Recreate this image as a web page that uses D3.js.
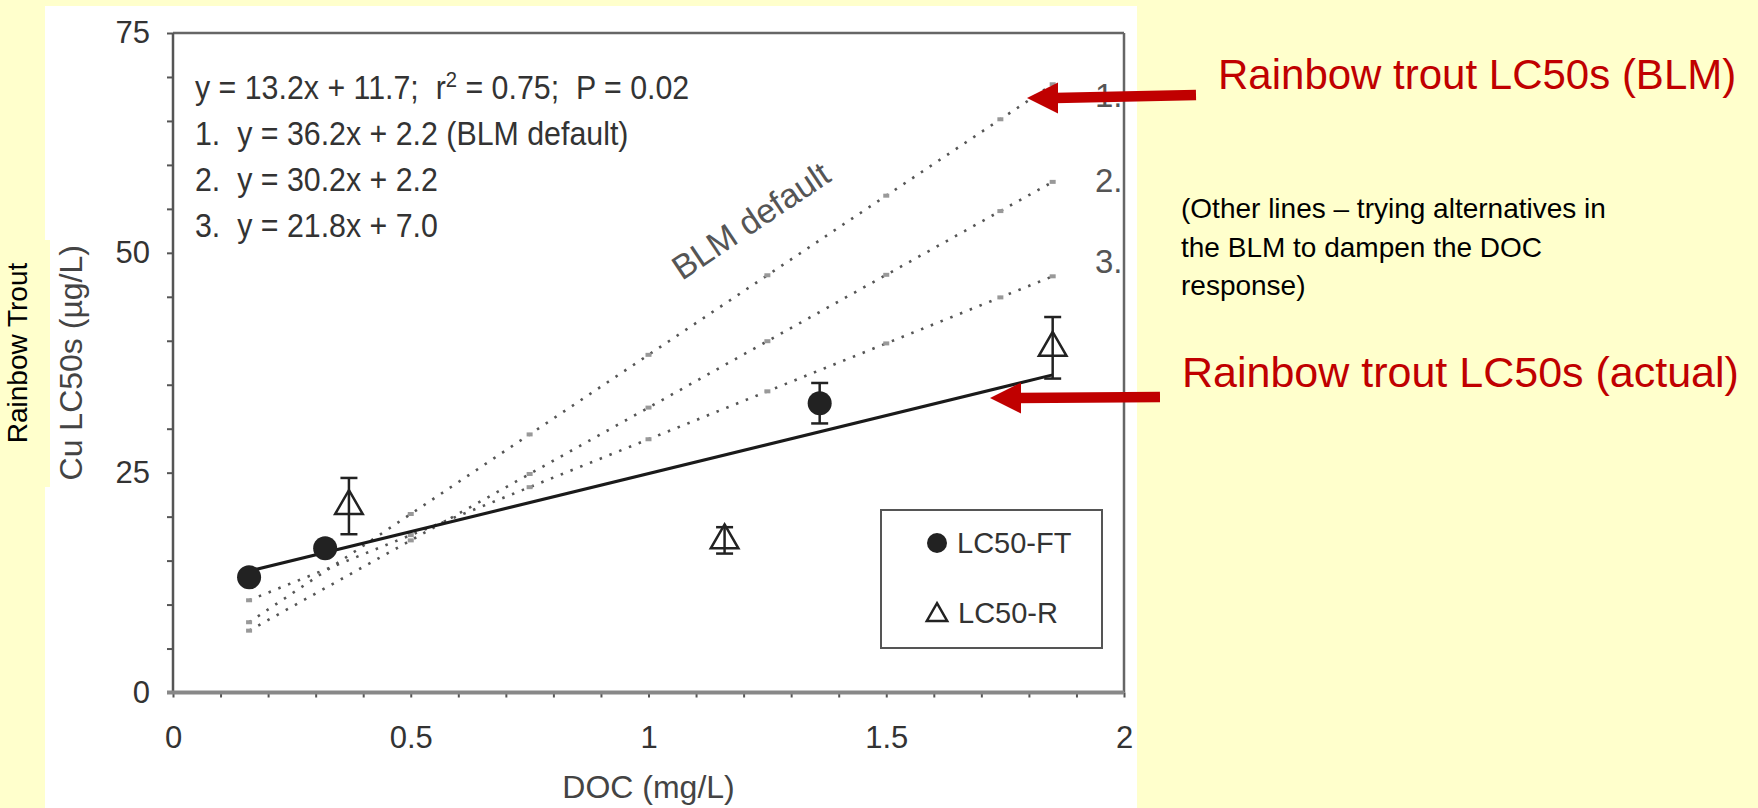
<!DOCTYPE html>
<html>
<head>
<meta charset="utf-8">
<script src="https://cdn.jsdelivr.net/npm/d3@7"></script>
<style>
  body { margin: 0; background: #FFFFCC; }
  svg { display: block; font-family: "Liberation Sans", Arial, sans-serif; }
</style>
</head>
<body>
<svg id="chart" width="1758" height="808"></svg>
<script>
// data
var ftDoc = [0.16, 0.32, 1.36];
var ftLc50 = [13.1, 16.4, 32.9];
var ftErr = [0, 0, 2.3];

var rDoc = [0.37, 1.16, 1.85];
var rLc50 = [21.2, 17.3, 39.2];
var rErr = [3.2, 1.5, 3.5];

// fitted line and BLM model lines (slope, intercept as printed on the chart)
var fitLine = {slope: 13.2, intercept: 11.7};
var modelNames = ["1.", "2.", "3."];
var modelSlopes = [36.2, 30.2, 21.8];
var modelIntercepts = [2.2, 2.2, 7.0];
var lineRange = [0.16, 1.85];
var markDoc = [0.16, 0.5, 0.75, 1.0, 1.25, 1.5, 1.74, 1.85];

var nb = "\u00a0";
var equations = [
  "1." + nb + nb + "y = 36.2x + 2.2 (BLM default)",
  "2." + nb + nb + "y = 30.2x + 2.2",
  "3." + nb + nb + "y = 21.8x + 7.0"
];

var yTicks = [0, 25, 50, 75];
var xTicks = [0, 0.5, 1, 1.5, 2];

var svg = d3.select("#chart");

// white picture area
svg.append("rect").attr("x", 45).attr("y", 6).attr("width", 1092).attr("height", 802).attr("fill", "#fff");
svg.append("rect").attr("x", 0).attr("y", 240).attr("width", 50).attr("height", 247).attr("fill", "#FFFFCC");

var x = d3.scaleLinear().domain([0, 2]).range([173, 1124]);
var y = d3.scaleLinear().domain([0, 75]).range([692.5, 33]);

var ink = "#333";

// y axis, minor ticks every 5
var yAxis = d3.axisLeft(y)
  .tickValues(d3.range(0, 76, 5))
  .tickSize(6)
  .tickPadding(17)
  .tickFormat(function(d){ return yTicks.indexOf(d) >= 0 ? d : ""; });

var gy = svg.append("g").attr("transform", "translate(" + x(0) + ",0)").call(yAxis);
gy.select(".domain").remove();
gy.selectAll("line").attr("stroke", "#555").attr("stroke-width", 2);
gy.selectAll("text").attr("font-size", 31).attr("fill", ink).attr("font-family", "Liberation Sans, Arial, sans-serif");

// x axis, minor ticks every 0.1
var xAxis = d3.axisBottom(x)
  .tickValues(d3.range(21).map(function(i){ return i / 10; }))
  .tickSize(5)
  .tickPadding(28)
  .tickFormat(function(d){
    var hit = xTicks.filter(function(t){ return Math.abs(t - d) < 1e-9; });
    return hit.length ? d3.format("~g")(hit[0]) : "";
  });

var gx = svg.append("g").attr("transform", "translate(0," + y(0) + ")").call(xAxis);
gx.select(".domain").remove();
gx.selectAll("line").attr("stroke", "#555").attr("stroke-width", 2);
gx.selectAll("text").attr("font-size", 31).attr("fill", ink).attr("font-family", "Liberation Sans, Arial, sans-serif");

// frame
svg.append("line").attr("x1", x(0)).attr("x2", x(2)).attr("y1", y(75)).attr("y2", y(75))
  .attr("stroke", "#666").attr("stroke-width", 2.5);
svg.append("line").attr("x1", x(2)).attr("x2", x(2)).attr("y1", y(75)).attr("y2", y(0))
  .attr("stroke", "#666").attr("stroke-width", 2.5);
svg.append("line").attr("x1", x(0)).attr("x2", x(0)).attr("y1", y(75)).attr("y2", y(0))
  .attr("stroke", "#555").attr("stroke-width", 2.5);
svg.append("line").attr("x1", x(0) - 6).attr("x2", x(2)).attr("y1", y(0)).attr("y2", y(0))
  .attr("stroke", "#888").attr("stroke-width", 4);

// axis titles
svg.append("text")
  .attr("transform", "translate(82," + ((y(0) + y(75)) / 2) + ") rotate(-90)")
  .attr("text-anchor", "middle").attr("font-size", 32).attr("fill", "#444")
  .text("Cu LC50s (µg/L)");

svg.append("text")
  .attr("transform", "translate(27,353) rotate(-90)")
  .attr("text-anchor", "middle").attr("font-size", 28).attr("fill", "#000")
  .text("Rainbow Trout");

svg.append("text")
  .attr("x", x(1)).attr("y", 798)
  .attr("text-anchor", "middle").attr("font-size", 32).attr("fill", "#444")
  .text("DOC (mg/L)");

// equations (slightly condensed face as in the source figure)
var eq = svg.append("g").attr("font-size", 33).attr("fill", ink)
  .attr("transform", "translate(195,0) scale(0.92,1)");
var eq0 = eq.append("text").attr("x", 0).attr("y", 99);
eq0.append("tspan").text("y = 13.2x + 11.7;" + nb + nb + "r");
eq0.append("tspan").attr("dy", -12).attr("font-size", 22).text("2");
eq0.append("tspan").attr("dy", 12).text(" = 0.75;" + nb + nb + "P = 0.02");
eq.selectAll(".eqline")
  .data(equations)
  .enter().append("text")
  .attr("class", "eqline")
  .attr("x", 0)
  .attr("y", function(d, i){ return 145 + i * 46; })
  .text(function(d){ return d; });

// model lines (dotted)
var models = modelNames.map(function(n, i){
  return {name: n, slope: modelSlopes[i], intercept: modelIntercepts[i]};
});
var line = d3.line()
  .x(function(d){ return x(d[0]); })
  .y(function(d){ return y(d[1]); });

models.forEach(function(m){
  var pts = lineRange.map(function(d){ return [d, m.slope * d + m.intercept]; });
  svg.append("path")
    .attr("d", line(pts))
    .attr("fill", "none")
    .attr("stroke", "#555")
    .attr("stroke-width", 2.6)
    .attr("stroke-dasharray", "2.5,8");
  svg.append("g").selectAll("rect")
    .data(markDoc)
    .enter().append("rect")
    .attr("x", function(d){ return x(d) - 3; })
    .attr("y", function(d){ return y(m.slope * d + m.intercept) - 2; })
    .attr("width", 6).attr("height", 4)
    .attr("fill", "#999");
});

// line number labels
var labelBase = [107, 192, 273];
svg.append("g").attr("font-size", 33).attr("fill", "#555")
  .selectAll("text").data(models).enter().append("text")
  .attr("x", 1095)
  .attr("y", function(d, i){ return labelBase[i]; })
  .text(function(d){ return d.name; });

// BLM default label along line 1
var m1 = models[0];
var angle = Math.atan2(y(m1.slope * 1) - y(m1.slope * 0), x(1) - x(0)) * 180 / Math.PI;
svg.append("text")
  .attr("transform", "translate(682,281) rotate(" + angle + ")")
  .attr("font-size", 34).attr("fill", "#555")
  .text("BLM default");

// regression line
var fitPts = lineRange.map(function(d){ return [d, fitLine.slope * d + fitLine.intercept]; });
svg.append("path")
  .attr("d", line(fitPts))
  .attr("fill", "none").attr("stroke", "#1a1a1a").attr("stroke-width", 3);

// error bars
function errorBars(docs, vals, errs){
  var g = svg.append("g").attr("stroke", "#222").attr("stroke-width", 2.5);
  docs.forEach(function(d, i){
    if (!errs[i]) return;
    var cx = x(d), top = y(vals[i] + errs[i]), bot = y(vals[i] - errs[i]);
    g.append("line").attr("x1", cx).attr("x2", cx).attr("y1", top).attr("y2", bot);
    g.append("line").attr("x1", cx - 8.5).attr("x2", cx + 8.5).attr("y1", top).attr("y2", top);
    g.append("line").attr("x1", cx - 8.5).attr("x2", cx + 8.5).attr("y1", bot).attr("y2", bot);
  });
}
errorBars(ftDoc, ftLc50, ftErr);
errorBars(rDoc, rLc50, rErr);

// LC50-FT points
svg.append("g").selectAll("circle")
  .data(ftDoc)
  .enter().append("circle")
  .attr("cx", function(d){ return x(d); })
  .attr("cy", function(d, i){ return y(ftLc50[i]); })
  .attr("r", 12)
  .attr("fill", "#222");

// LC50-R points
var tri = d3.symbol().type(d3.symbolTriangle).size(330);
svg.append("g").selectAll("path")
  .data(rDoc)
  .enter().append("path")
  .attr("d", tri)
  .attr("transform", function(d, i){ return "translate(" + x(d) + "," + y(rLc50[i]) + ")"; })
  .attr("fill", "none")
  .attr("stroke", "#222")
  .attr("stroke-width", 2.5);

// legend
var lg = svg.append("g");
lg.append("rect").attr("x", 881).attr("y", 510).attr("width", 221).attr("height", 138)
  .attr("fill", "#fff").attr("stroke", "#555").attr("stroke-width", 2);
lg.append("circle").attr("cx", 937).attr("cy", 543).attr("r", 10).attr("fill", "#222");
lg.append("text").attr("x", 957).attr("y", 553).attr("font-size", 29).attr("fill", ink).text("LC50-FT");
lg.append("path").attr("d", d3.symbol().type(d3.symbolTriangle).size(180))
  .attr("transform", "translate(937,615)")
  .attr("fill", "none").attr("stroke", "#222").attr("stroke-width", 2.5);
lg.append("text").attr("x", 958).attr("y", 623).attr("font-size", 29).attr("fill", ink).text("LC50-R");

// red annotations
var red = "#C00000";
function arrow(x1, y1, tipX, tipY){
  var g = svg.append("g");
  g.append("line").attr("x1", x1).attr("y1", y1).attr("x2", tipX + 28).attr("y2", tipY)
    .attr("stroke", red).attr("stroke-width", 10.5);
  g.append("path")
    .attr("d", "M" + tipX + "," + tipY + " L" + (tipX + 31) + "," + (tipY - 15.5) +
      " L" + (tipX + 31) + "," + (tipY + 15.5) + " Z")
    .attr("fill", red);
}
arrow(1196, 95, 1027, 98);
arrow(1160, 397, 990, 398);

svg.append("text").attr("x", 1218).attr("y", 89).attr("font-size", 42).attr("fill", red)
  .text("Rainbow trout LC50s (BLM)");
svg.append("text").attr("x", 1182).attr("y", 387).attr("font-size", 43).attr("fill", red)
  .text("Rainbow trout LC50s (actual)");

var note = ["(Other lines \u2013 trying alternatives in", "the BLM to dampen the DOC", "response)"];
svg.append("g").attr("font-size", 28).attr("fill", "#000")
  .selectAll("text").data(note).enter().append("text")
  .attr("x", 1181)
  .attr("y", function(d, i){ return 218 + i * 38.5; })
  .text(function(d){ return d; });
</script>
</body>
</html>
